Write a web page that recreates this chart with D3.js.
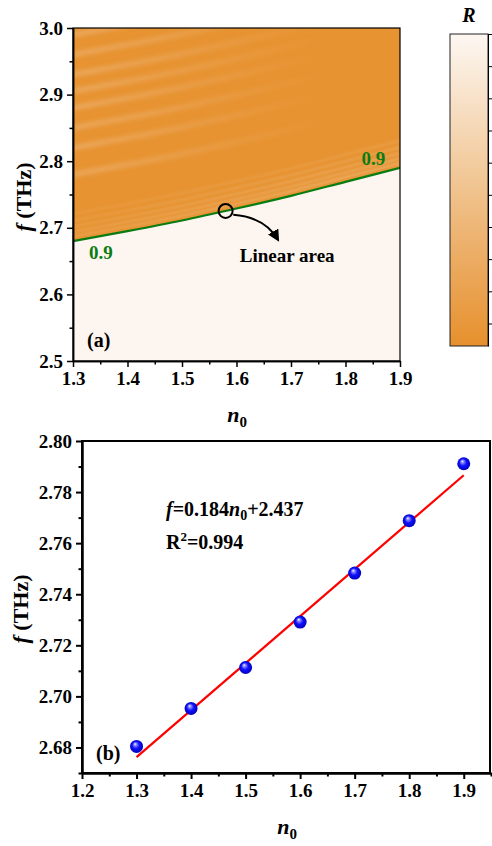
<!DOCTYPE html>
<html>
<head>
<meta charset="utf-8">
<script src="https://cdn.jsdelivr.net/npm/d3@7"></script>
<style>
  body { margin: 0; background: #fff; }
</style>
</head>
<body>
<div id="chart"></div>
<script>
//Size of the picture.
let w = 492;
let h = 846;
const serif = "'Liberation Serif'";

//Panel (a): the R = 0.9 contour.
const contourN = [1.3, 1.4, 1.5, 1.6, 1.7, 1.8, 1.9];
const contourF = [2.680, 2.695, 2.711, 2.729, 2.748, 2.769, 2.790];
//Light fringes above the contour, as offsets in THz.
const fringeNear = [0.007, 0.014, 0.022, 0.031, 0.041];
const fringeFar = [0.10, 0.14, 0.17, 0.2, 0.225, 0.25, 0.28, 0.31];
//R levels of the two regions of the map.
const rAbove = 0.06;
const rBelow = 0.99;
//Colour bar.
const rDomain = [0.03, 1.0];
const rTicks = [0.1, 0.2, 0.3, 0.4, 0.5, 0.6, 0.7, 0.8, 0.9, 1.0];
const aXTicks = [1.3, 1.4, 1.5, 1.6, 1.7, 1.8, 1.9];
const aYTicks = [2.5, 2.6, 2.7, 2.8, 2.9, 3.0];

//Panel (b): peak frequency against n0, and its linear fit.
const nValues = [1.3, 1.4, 1.5, 1.6, 1.7, 1.8, 1.9];
const fValues = [2.6804, 2.6953, 2.7113, 2.7291, 2.7483, 2.7688, 2.7911];
const fitSlope = 0.184;
const fitIntercept = 2.437;
const bXTicks = [1.2, 1.3, 1.4, 1.5, 1.6, 1.7, 1.8, 1.9];
const bYTicks = [2.68, 2.70, 2.72, 2.74, 2.76, 2.78, 2.80];

const svg = d3.select("#chart")
  .append("svg")
  .attr("width", w)
  .attr("height", h);

const defs = svg.append("defs");

//Scales.
const ax = d3.scaleLinear().domain([1.3, 1.9]).range([73, 400]);
const ay = d3.scaleLinear().domain([2.5, 3.0]).range([361, 28]);
const bx = d3.scaleLinear().domain([1.2, 1.95]).range([82, 491]);
const by = d3.scaleLinear().domain([2.67, 2.80]).range([773, 441]);
const rColor = d3.scaleLinear()
  .domain([rDomain[0], 0.5, rDomain[1]])
  .range(["#e6902c", "#f0c18b", "#fdf7f2"]);
const cbY = d3.scaleLinear().domain(rDomain).range([346, 34]);

const contour = contourN.map((n, i) => ({ n: n, f: contourF[i] }));

//Minor ticks sit half way between major ticks.
function midpoints(ticks) {
  return d3.pairs(ticks).map(p => +((p[0] + p[1]) / 2).toFixed(3));
}

function styleAxis(g, width) {
  g.selectAll("path, line").attr("stroke", "#000").attr("stroke-width", width);
  g.selectAll("text").attr("fill", "#000").style("font-size", "19px");
}

function drawAxes(g, x, y, xTicks, yTicks, xMinor, yMinor, xFmt, yFmt, width) {
  const bottom = y.range()[0];
  const left = x.range()[0];
  g.append("g")
    .attr("transform", "translate(0," + bottom + ")")
    .call(d3.axisBottom(x).tickValues(xMinor).tickSize(3.5).tickSizeOuter(0).tickFormat(""))
    .call(s => styleAxis(s, width));
  g.append("g")
    .attr("transform", "translate(" + left + ",0)")
    .call(d3.axisLeft(y).tickValues(yMinor).tickSize(3.5).tickSizeOuter(0).tickFormat(""))
    .call(s => styleAxis(s, width));
  g.append("g")
    .attr("transform", "translate(0," + bottom + ")")
    .call(d3.axisBottom(x).tickValues(xTicks).tickSize(6).tickPadding(5).tickSizeOuter(0).tickFormat(d3.format(xFmt)))
    .call(s => styleAxis(s, width));
  g.append("g")
    .attr("transform", "translate(" + left + ",0)")
    .call(d3.axisLeft(y).tickValues(yTicks).tickSize(6).tickPadding(4).tickSizeOuter(0).tickFormat(d3.format(yFmt)))
    .call(s => styleAxis(s, width));
}

//Axis titles: "f (THz)" turned on its side, "n0" underneath.
function yTitle(cx, cy) {
  const t = svg.append("text")
    .attr("transform", "translate(" + cx + "," + cy + ") rotate(-90)")
    .attr("text-anchor", "middle")
    .style("font-size", "22px");
  t.append("tspan").style("font-style", "italic").text("f");
  t.append("tspan").text(" (THz)");
}

function xTitle(cx, cy) {
  const t = svg.append("text")
    .attr("x", cx)
    .attr("y", cy)
    .attr("text-anchor", "middle")
    .style("font-size", "22px");
  t.append("tspan").style("font-style", "italic").text("n");
  t.append("tspan").attr("dy", 5).style("font-size", "15px").text("0");
}

//---------------- Panel (a) ----------------
function drawMap() {
  defs.append("clipPath").attr("id", "clip-a")
    .append("rect")
    .attr("x", ax.range()[0]).attr("y", ay.range()[1])
    .attr("width", ax.range()[1] - ax.range()[0])
    .attr("height", ay.range()[0] - ay.range()[1]);

  defs.append("filter").attr("id", "blur-near")
    .attr("x", "-10%").attr("y", "-50%").attr("width", "120%").attr("height", "200%")
    .append("feGaussianBlur").attr("stdDeviation", 0.9);
  defs.append("filter").attr("id", "blur-far")
    .attr("x", "-10%").attr("y", "-50%").attr("width", "120%").attr("height", "200%")
    .append("feGaussianBlur").attr("stdDeviation", 2.2);

  //Far fringes fade out towards larger n0.
  const fade = defs.append("linearGradient")
    .attr("id", "fringe-fade")
    .attr("gradientUnits", "userSpaceOnUse")
    .attr("x1", ax(1.3)).attr("x2", ax(1.75)).attr("y1", 0).attr("y2", 0);
  fade.append("stop").attr("offset", "0%").attr("stop-color", rColor(0.35)).attr("stop-opacity", 0.75);
  fade.append("stop").attr("offset", "100%").attr("stop-color", rColor(0.35)).attr("stop-opacity", 0);

  //Near fringes are strongest at large n0.
  const nearFade = defs.append("linearGradient")
    .attr("id", "near-fade")
    .attr("gradientUnits", "userSpaceOnUse")
    .attr("x1", ax(1.3)).attr("x2", ax(1.9)).attr("y1", 0).attr("y2", 0);
  nearFade.append("stop").attr("offset", "0%").attr("stop-color", rColor(0.4)).attr("stop-opacity", 0.4);
  nearFade.append("stop").attr("offset", "100%").attr("stop-color", rColor(0.4)).attr("stop-opacity", 0.8);

  const map = svg.append("g").attr("clip-path", "url(#clip-a)");

  map.append("path")
    .datum(contour)
    .attr("fill", rColor(rAbove))
    .attr("d", d3.area().x(d => ax(d.n)).y0(ay(3.0)).y1(d => ay(d.f)).curve(d3.curveMonotoneX));

  map.append("path")
    .datum(contour)
    .attr("fill", rColor(rBelow))
    .attr("d", d3.area().x(d => ax(d.n)).y0(ay(2.5)).y1(d => ay(d.f)).curve(d3.curveMonotoneX));

  const fringeLine = off => d3.line()
    .x(d => ax(d.n))
    .y(d => ay(d.f + off))
    .curve(d3.curveMonotoneX)(contour);

  map.selectAll(".fringe-far")
    .data(fringeFar)
    .enter()
    .append("path")
    .attr("class", "fringe-far")
    .attr("fill", "none")
    .attr("stroke", "url(#fringe-fade)")
    .attr("stroke-width", 5)
    .attr("filter", "url(#blur-far)")
    .attr("d", d => fringeLine(d));

  map.selectAll(".fringe-near")
    .data(fringeNear)
    .enter()
    .append("path")
    .attr("class", "fringe-near")
    .attr("fill", "none")
    .attr("stroke", "url(#near-fade)")
    .attr("stroke-opacity", (d, i) => 1 - i * 0.15)
    .attr("stroke-width", 2.2)
    .attr("filter", "url(#blur-near)")
    .attr("d", d => fringeLine(d));

  //The R = 0.9 contour.
  map.append("path")
    .datum(contour)
    .attr("fill", "none")
    .attr("stroke", "#0a7d12")
    .attr("stroke-width", 2.2)
    .attr("d", d3.line().x(d => ax(d.n)).y(d => ay(d.f)).curve(d3.curveMonotoneX));

  //Frame.
  svg.append("rect")
    .attr("x", ax.range()[0]).attr("y", ay.range()[1])
    .attr("width", ax.range()[1] - ax.range()[0])
    .attr("height", ay.range()[0] - ay.range()[1])
    .attr("fill", "none")
    .attr("stroke", "#000")
    .attr("stroke-width", 1.2);

  const axes = svg.append("g");
  drawAxes(axes, ax, ay, aXTicks, aYTicks, midpoints(aXTicks), midpoints(aYTicks), ".1f", ".1f", 1.5);

  //Contour labels.
  svg.selectAll(".clabel")
    .data([[1.351, 2.653], [1.851, 2.794]])
    .enter()
    .append("text")
    .attr("class", "clabel")
    .attr("x", d => ax(d[0]))
    .attr("y", d => ay(d[1]))
    .attr("text-anchor", "middle")
    .attr("fill", "#0a7d12")
    .style("font-size", "19px")
    .text("0.9");

  //Marker and arrow pointing at the linear area.
  const markN = 1.58;
  const markF = d3.scaleLinear().domain(contourN).range(contourF)(markN);
  svg.append("circle")
    .attr("cx", ax(markN))
    .attr("cy", ay(markF))
    .attr("r", 7)
    .attr("fill", "none")
    .attr("stroke", "#000")
    .attr("stroke-width", 2);

  defs.append("marker")
    .attr("id", "arrow")
    .attr("viewBox", "0 0 10 10")
    .attr("refX", 8).attr("refY", 5)
    .attr("markerWidth", 12).attr("markerHeight", 12)
    .attr("markerUnits", "userSpaceOnUse")
    .attr("orient", "auto")
    .append("path")
    .attr("d", "M0,0 L10,5 L0,10 z")
    .attr("fill", "#000");

  const a0 = [ax(1.594), ay(2.7195)];
  const a1 = [ax(1.652), ay(2.716)];
  const a2 = [ax(1.676), ay(2.682)];
  svg.append("path")
    .attr("d", "M" + a0 + " Q" + a1 + " " + a2)
    .attr("fill", "none")
    .attr("stroke", "#000")
    .attr("stroke-width", 2)
    .attr("marker-end", "url(#arrow)");

  svg.append("text")
    .attr("x", ax(1.606))
    .attr("y", ay(2.649))
    .style("font-size", "19px")
    .text("Linear area");

  svg.append("text")
    .attr("x", ax.range()[0] + 14)
    .attr("y", ay.range()[0] - 14)
    .style("font-size", "20px")
    .text("(a)");

  yTitle(31, 197);
  xTitle(237, 422);
}

//Colour bar of R.
function drawColorbar() {
  const grad = defs.append("linearGradient")
    .attr("id", "r-grad")
    .attr("x1", 0).attr("x2", 0).attr("y1", 1).attr("y2", 0);
  d3.range(0, 1.0001, 0.1).forEach(t => {
    const r = rDomain[0] + t * (rDomain[1] - rDomain[0]);
    grad.append("stop").attr("offset", (t * 100) + "%").attr("stop-color", rColor(r));
  });

  svg.append("rect")
    .attr("x", 450).attr("y", cbY(rDomain[1]))
    .attr("width", 38)
    .attr("height", cbY(rDomain[0]) - cbY(rDomain[1]))
    .attr("fill", "url(#r-grad)")
    .attr("stroke", "#222")
    .attr("stroke-width", 1);

  svg.append("g")
    .attr("transform", "translate(488,0)")
    .call(d3.axisRight(cbY).tickValues(rTicks).tickSize(6).tickSizeOuter(0).tickFormat(""))
    .call(s => styleAxis(s, 1));

  svg.append("text")
    .attr("x", 469)
    .attr("y", 22)
    .attr("text-anchor", "middle")
    .style("font-size", "20px")
    .style("font-style", "italic")
    .text("R");
}

//---------------- Panel (b) ----------------
function drawFit() {
  const g = svg.append("g");

  //Fitted straight line over the measured range.
  g.append("line")
    .attr("x1", bx(nValues[0]))
    .attr("y1", by(fitSlope * nValues[0] + fitIntercept))
    .attr("x2", bx(nValues[nValues.length - 1]))
    .attr("y2", by(fitSlope * nValues[nValues.length - 1] + fitIntercept))
    .attr("stroke", "#ff0000")
    .attr("stroke-width", 2.2);

  const ball = defs.append("radialGradient")
    .attr("id", "ball")
    .attr("cx", "50%").attr("cy", "50%").attr("r", "55%")
    .attr("fx", "38%").attr("fy", "30%");
  ball.append("stop").attr("offset", "0%").attr("stop-color", "#ffffff");
  ball.append("stop").attr("offset", "18%").attr("stop-color", "#8f8fff");
  ball.append("stop").attr("offset", "50%").attr("stop-color", "#1010ff");
  ball.append("stop").attr("offset", "100%").attr("stop-color", "#0000b0");

  g.selectAll("circle")
    .data(nValues)
    .enter()
    .append("circle")
    .attr("cx", d => bx(d))
    .attr("cy", (d, i) => by(fValues[i]))
    .attr("r", 6.5)
    .attr("fill", "url(#ball)");

  //Frame.
  svg.append("rect")
    .attr("x", bx.range()[0]).attr("y", by.range()[1])
    .attr("width", bx.range()[1] - bx.range()[0] - 1)
    .attr("height", by.range()[0] - by.range()[1])
    .attr("fill", "none")
    .attr("stroke", "#000")
    .attr("stroke-width", 2);

  const axes = svg.append("g");
  drawAxes(axes, bx, by, bXTicks, bYTicks, midpoints(bXTicks).concat([1.95]), midpoints(bYTicks).concat([2.67]), ".1f", ".2f", 2);

  //Fit equation.
  const eq = svg.append("text")
    .attr("x", bx(1.354))
    .attr("y", by(2.7706))
    .style("font-size", "20px");
  eq.append("tspan").style("font-style", "italic").text("f");
  eq.append("tspan").text("=" + fitSlope);
  eq.append("tspan").style("font-style", "italic").text("n");
  eq.append("tspan").attr("dy", 4).style("font-size", "14px").text("0");
  eq.append("tspan").attr("dy", -4).text("+" + fitIntercept);

  const r2 = svg.append("text")
    .attr("x", bx(1.354))
    .attr("y", by(2.7577))
    .style("font-size", "20px");
  r2.append("tspan").text("R");
  r2.append("tspan").attr("dy", -8).style("font-size", "13px").text("2");
  r2.append("tspan").attr("dy", 8).text("=0.994");

  svg.append("text")
    .attr("x", bx.range()[0] + 14)
    .attr("y", by.range()[0] - 13)
    .style("font-size", "20px")
    .text("(b)");

  yTitle(28, 609);
  xTitle(287, 834);
}

drawMap();
drawColorbar();
drawFit();

//Same bold serif face for every text.
svg.selectAll("text")
  .style("font-family", serif)
  .style("font-weight", "bold");
</script>
</body>
</html>
